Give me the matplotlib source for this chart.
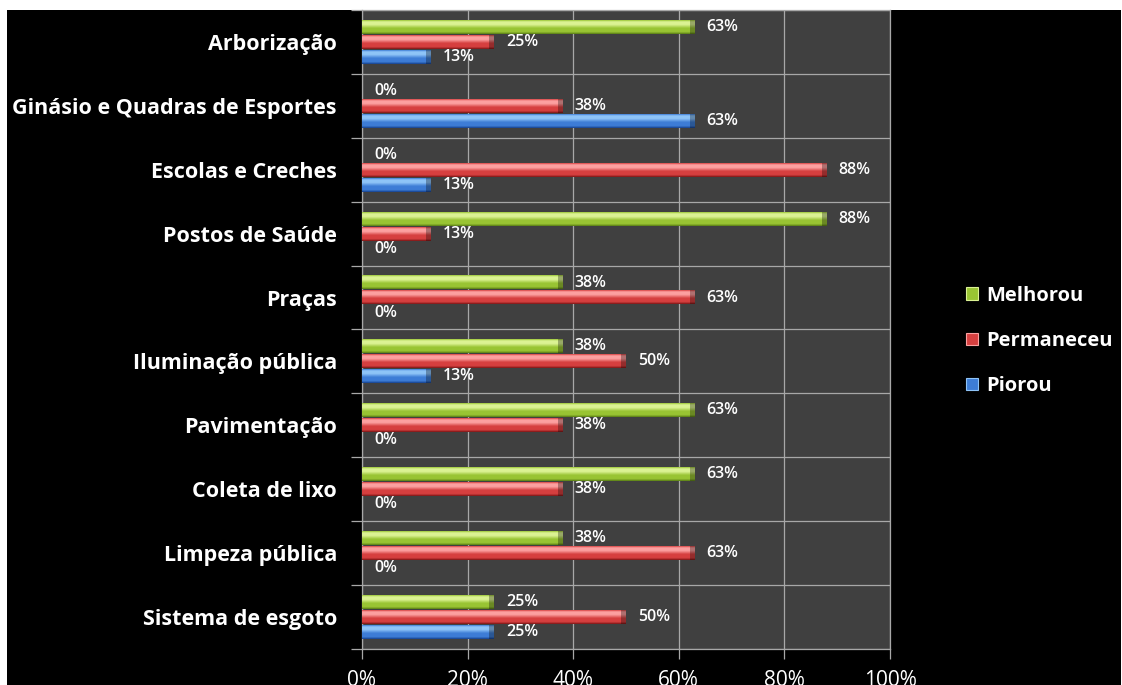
import numpy as np
import matplotlib
matplotlib.use("Agg")
import matplotlib.pyplot as plt
from matplotlib.patches import Rectangle, Patch

plt.rcParams['font.family'] = ['Open Sans', 'DejaVu Sans']

# Survey results: share of answers per public service
categories = [
    "Sistema de esgoto",
    "Limpeza pública",
    "Coleta de lixo",
    "Pavimentação",
    "Iluminação pública",
    "Praças",
    "Postos de Saúde",
    "Escolas e Creches",
    "Ginásio e Quadras de Esportes",
    "Arborização",
]
melhorou = [25, 38, 63, 63, 38, 38, 88, 0, 0, 63]
permaneceu = [50, 63, 38, 38, 50, 63, 13, 88, 38, 25]
piorou = [25, 0, 0, 0, 13, 0, 0, 13, 63, 13]
series_names = ["Melhorou", "Permaneceu", "Piorou"]
x_ticks = [0, 20, 40, 60, 80, 100]
x_tick_labels = ["0%", "20%", "40%", "60%", "80%", "100%"]

# (dark, base, highlight) shades for the cylinder look
palette = {
    "Melhorou": ((0.34, 0.48, 0.08), (0.60, 0.77, 0.20), (0.86, 0.95, 0.58)),
    "Permaneceu": ((0.48, 0.08, 0.08), (0.84, 0.25, 0.25), (0.99, 0.63, 0.63)),
    "Piorou": ((0.08, 0.25, 0.55), (0.24, 0.49, 0.84), (0.56, 0.77, 0.97)),
}

W, H = 1122, 685
fig = plt.figure(figsize=(W / 100, H / 100), dpi=100)
fig.patch.set_facecolor("white")
fig.add_artist(Rectangle((7 / W, 0), (1121 - 7) / W, (H - 10) / H,
                         transform=fig.transFigure, facecolor="black",
                         edgecolor="none", zorder=0))

ax_left, ax_right, ax_top, ax_bottom = 362, 890, 10, 649
ax = fig.add_axes([ax_left / W, (H - ax_bottom) / H,
                   (ax_right - ax_left) / W, (ax_bottom - ax_top) / H])
ax.set_facecolor("#404040")
ax.set_zorder(1)

band_px = 64.9
y_top = -0.5 + (ax_bottom - ax_top) / band_px


def shade_profile(dark, base, light, n=64):
    t = np.linspace(0, 1, n)
    stops_t = [0.0, 0.15, 0.42, 0.68, 0.88, 1.0]
    stops_c = [dark, base, base, light, light, base]
    img = np.zeros((n, 1, 3))
    for ch in range(3):
        img[:, 0, ch] = np.interp(t, stops_t, [c[ch] for c in stops_c])
    return img


def cylinder_bar(y, value, h, shades):
    if value <= 0:
        return
    img = shade_profile(*shades)
    ax.imshow(img, extent=(0, value, y - h / 2, y + h / 2), origin="lower",
              aspect="auto", interpolation="bilinear", zorder=3)
    cap = min(0.9, value * 0.5)
    ax.imshow(img * 0.7, extent=(value - cap, value, y - h / 2, y + h / 2),
              origin="lower", aspect="auto", interpolation="bilinear", zorder=4)


bar_h = 0.215
offsets = {"Melhorou": 0.235, "Permaneceu": 0.0, "Piorou": -0.235}
values = {"Melhorou": melhorou, "Permaneceu": permaneceu, "Piorou": piorou}

ypos = np.arange(len(categories))
for name in series_names:
    for yi, v in zip(ypos, values[name]):
        yy = yi + offsets[name]
        cylinder_bar(yy, v, bar_h, palette[name])
        ax.annotate(f"{v}%", xy=(v, yy), xytext=(8.6, 0),
                    textcoords="offset points", va="center", ha="left",
                    color="white", fontsize=11.5, fontweight="semibold",
                    zorder=5, annotation_clip=False)

ax.set_xlim(0, 100)
ax.set_ylim(-0.5, y_top)

grid_c = "#a8a8a8"
ax.set_xticks(x_ticks)
ax.set_xticklabels(x_tick_labels, color="white", fontsize=15)
ax.set_yticks(np.arange(-0.5, len(categories), 1.0))
ax.set_yticklabels([])
ax.set_yticks(ypos, minor=True)
ax.set_yticklabels(categories, minor=True, color="white", fontsize=15.5,
                   fontweight="bold")
ax.tick_params(axis="y", which="minor", length=0, pad=18)
ax.tick_params(axis="y", which="major", length=8, color=grid_c, width=0.9)
ax.tick_params(axis="x", length=7, color=grid_c, width=0.9, pad=8)
ax.grid(True, which="major", color=grid_c, linewidth=0.9, zorder=1)
ax.set_axisbelow(True)
for side in ["left", "right", "bottom", "top"]:
    ax.spines[side].set_color(grid_c)
    ax.spines[side].set_linewidth(0.9)

handles = [Patch(facecolor=palette[n][1], edgecolor=palette[n][2], linewidth=0.8)
           for n in series_names]
leg = fig.legend(handles, series_names, loc="center left",
                 bbox_to_anchor=(958 / W, 1 - 341 / H), frameon=False,
                 handlelength=0.6, handleheight=0.6, handletextpad=0.4,
                 labelspacing=1.25, borderaxespad=0,
                 prop={"weight": "bold", "size": 14.5})
for txt in leg.get_texts():
    txt.set_color("white")

fig.savefig("out.png", dpi=100, facecolor=fig.get_facecolor())
